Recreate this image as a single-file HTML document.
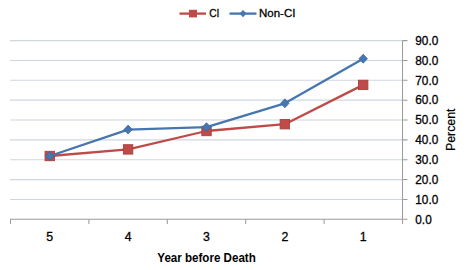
<!DOCTYPE html>
<html><head><meta charset="utf-8">
<style>
html,body{margin:0;padding:0;background:#fff;width:466px;height:270px;overflow:hidden}
svg{display:block}
text{font-family:"Liberation Sans",sans-serif;fill:#000}
</style></head><body>
<svg width="466" height="270" viewBox="0 0 466 270">
<rect width="466" height="270" fill="#fff"/>

<g stroke="#D0D6E0" stroke-width="1.1">
<line x1="10" y1="40.6" x2="402.5" y2="40.6"/>
<line x1="10" y1="60.46" x2="402.5" y2="60.46"/>
<line x1="10" y1="80.31" x2="402.5" y2="80.31"/>
<line x1="10" y1="100.17" x2="402.5" y2="100.17"/>
<line x1="10" y1="120.02" x2="402.5" y2="120.02"/>
<line x1="10" y1="139.88" x2="402.5" y2="139.88"/>
<line x1="10" y1="159.73" x2="402.5" y2="159.73"/>
<line x1="10" y1="179.59" x2="402.5" y2="179.59"/>
<line x1="10" y1="199.44" x2="402.5" y2="199.44"/>
</g>
<g stroke="#9C9C9C" stroke-width="1.05" fill="none">
<path d="M10.5 224V219.3H402.5V40.6"/>
<path d="M88.9 219.3V224M167.3 219.3V224M245.7 219.3V224M324.1 219.3V224M402.5 219.3V224"/>
<path d="M402.5 40.6H407.5M402.5 60.46H407.5M402.5 80.31H407.5M402.5 100.17H407.5M402.5 120.02H407.5M402.5 139.88H407.5M402.5 159.73H407.5M402.5 179.59H407.5M402.5 199.44H407.5M402.5 219.3H407.5"/>
</g>
<g font-size="12.5" stroke="#000" stroke-width="0.3">
<text x="415.3" y="44.8" textLength="23.0" lengthAdjust="spacingAndGlyphs">90.0</text>
<text x="415.3" y="64.66" textLength="23.0" lengthAdjust="spacingAndGlyphs">80.0</text>
<text x="415.3" y="84.51" textLength="23.0" lengthAdjust="spacingAndGlyphs">70.0</text>
<text x="415.3" y="104.37" textLength="23.0" lengthAdjust="spacingAndGlyphs">60.0</text>
<text x="415.3" y="124.22" textLength="23.0" lengthAdjust="spacingAndGlyphs">50.0</text>
<text x="415.3" y="144.08" textLength="23.0" lengthAdjust="spacingAndGlyphs">40.0</text>
<text x="415.3" y="163.93" textLength="23.0" lengthAdjust="spacingAndGlyphs">30.0</text>
<text x="415.3" y="183.79" textLength="23.0" lengthAdjust="spacingAndGlyphs">20.0</text>
<text x="415.3" y="203.64" textLength="23.0" lengthAdjust="spacingAndGlyphs">10.0</text>
<text x="415.3" y="223.5" textLength="16.4" lengthAdjust="spacingAndGlyphs">0.0</text>
</g>
<g font-size="12.3" text-anchor="middle" stroke="#000" stroke-width="0.3">
<text x="49.75" y="241">5</text>
<text x="128.1" y="241">4</text>
<text x="206.5" y="241">3</text>
<text x="284.85" y="241">2</text>
<text x="363.2" y="241">1</text>
</g>
<text x="157.3" y="261.7" font-size="13" font-weight="bold" textLength="98.5" lengthAdjust="spacingAndGlyphs">Year before Death</text>
<text transform="translate(454.7,129.8) rotate(-90)" font-size="12.6" text-anchor="middle" textLength="42.5" lengthAdjust="spacingAndGlyphs" stroke="#000" stroke-width="0.2">Percent</text>
<polyline points="49.75,156.0 128.1,149.4 206.5,131.0 284.85,124.2 363.2,84.9" fill="none" stroke="#BE4B48" stroke-width="2.3" stroke-linejoin="round"/>
<g fill="#BE4B48" stroke="#A8403D" stroke-width="0.9">
<rect x="45.05" y="151.3" width="9.4" height="9.4"/>
<rect x="123.4" y="144.7" width="9.4" height="9.4"/>
<rect x="201.8" y="126.3" width="9.4" height="9.4"/>
<rect x="280.15" y="119.5" width="9.4" height="9.4"/>
<rect x="358.5" y="80.2" width="9.4" height="9.4"/>
</g>
<polyline points="49.75,156.0 128.1,129.6 206.5,127.2 284.85,103.3 363.2,58.7" fill="none" stroke="#4676B0" stroke-width="2.3" stroke-linejoin="round"/>
<g fill="#4676B0" stroke="#3A659A" stroke-width="0.7">
<path d="M49.75 151.5L54.05 156.0L49.75 160.5L45.45 156.0Z"/>
<path d="M128.1 125.1L132.4 129.6L128.1 134.1L123.8 129.6Z"/>
<path d="M206.5 122.7L210.8 127.2L206.5 131.7L202.2 127.2Z"/>
<path d="M284.85 98.8L289.15 103.3L284.85 107.8L280.55 103.3Z"/>
<path d="M363.2 54.2L367.5 58.7L363.2 63.2L358.9 58.7Z"/>
</g>
<line x1="179.5" y1="13.6" x2="206" y2="13.6" stroke="#BE4B48" stroke-width="2.3"/>
<rect x="189" y="9.8" width="8" height="7.6" fill="#BE4B48"/>
<text x="209.2" y="16.8" font-size="11.5" textLength="10.2" lengthAdjust="spacingAndGlyphs" stroke="#000" stroke-width="0.3">CI</text>
<line x1="229.5" y1="13.6" x2="256.5" y2="13.6" stroke="#4676B0" stroke-width="2.3"/>
<path d="M243 9.9L246.5 13.6L243 17.3L239.5 13.6Z" fill="#4676B0"/>
<text x="259" y="16.8" font-size="11.5" stroke="#000" stroke-width="0.3">Non-CI</text>
</svg>
</body></html>
